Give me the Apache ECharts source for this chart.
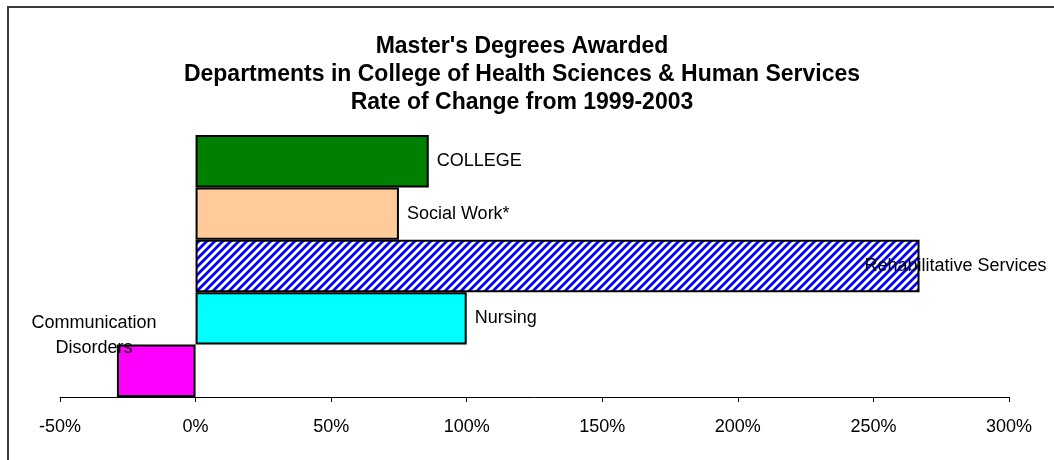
<!DOCTYPE html>
<html>
<head>
<meta charset="utf-8">
<script src="https://cdn.jsdelivr.net/npm/echarts@6/dist/echarts.min.js"></script>
<style>
html,body{margin:0;padding:0;background:#fff;}
#chart{width:1054px;height:460px;}
</style>
</head>
<body>
<div id="chart"></div>
<script>
// ---- data ----
const categories = ['COLLEGE', 'Social Work*', 'Rehabilitative Services', 'Nursing', 'Communication Disorders'];
const labelTexts = ['COLLEGE', 'Social Work*', 'Rehabilitative Services', 'Nursing', 'Communication\nDisorders'];
const rateOfChange = [86, 75, 267, 100, -29];
const tickValues = [-50, 0, 50, 100, 150, 200, 250, 300];
const titleLines = ["Master's Degrees Awarded", 'Departments in College of Health Sciences & Human Services', 'Rate of Change from 1999-2003'];

// ---- styles ----
const FONT = '"Liberation Sans", Arial, Helvetica, sans-serif';
function hatch() {
  const c = document.createElement('canvas');
  const n = 8;
  c.width = n; c.height = n;
  const g = c.getContext('2d');
  g.fillStyle = '#ffffff';
  g.fillRect(0, 0, n, n);
  g.strokeStyle = '#0000ff';
  g.lineWidth = 2.7;
  [0, n, 2 * n].forEach(k => {
    g.beginPath();
    g.moveTo(k + 2, -2);
    g.lineTo(k - n - 2, n + 2);
    g.stroke();
  });
  return c;
}
const fills = ['#008000', '#ffcc99', { image: hatch(), repeat: 'repeat' }, '#00ffff', '#ff00ff'];
const labelCfg = [
  { position: 'right', distance: 8 },
  { position: 'right', distance: 8 },
  { position: 'right', distance: 8, offset: [-63, 0] },
  { position: 'right', distance: 8 },
  { position: 'left', distance: 0, align: 'center', lineHeight: 25, offset: [-23, -35] }
];

const chart = echarts.init(document.getElementById('chart'), null, { renderer: 'canvas' });
chart.setOption({
  backgroundColor: '#ffffff',
  animation: false,
  textStyle: { fontFamily: FONT },
  title: {
    text: titleLines.join('\n'),
    left: 522,
    top: 33,
    padding: 0,
    textAlign: 'center',
    textStyle: { fontFamily: FONT, fontSize: 23, fontWeight: 'bold', color: '#000', lineHeight: 28 }
  },
  graphic: [{
    type: 'rect', silent: true, z: -1,
    shape: { x: 8, y: 7, width: 1300, height: 700 },
    style: { fill: 'none', stroke: '#3a3a3a', lineWidth: 2 }
  }],
  grid: { left: 60, right: 45, top: 135, bottom: 63, containLabel: false },
  xAxis: {
    type: 'value',
    min: tickValues[0],
    max: tickValues[tickValues.length - 1],
    interval: 50,
    axisLine: { show: true, lineStyle: { color: '#000', width: 1 } },
    axisTick: { show: true, length: 5, lineStyle: { color: '#000' } },
    splitLine: { show: false },
    axisLabel: { formatter: '{value}%', fontSize: 18, color: '#000', margin: 21, fontFamily: FONT }
  },
  yAxis: {
    type: 'category',
    data: categories,
    inverse: true,
    axisLine: { show: false },
    axisTick: { show: false },
    axisLabel: { show: false },
    splitLine: { show: false }
  },
  series: [{
    type: 'bar',
    barWidth: '100%',
    barCategoryGap: '0%',
    data: rateOfChange.map((v, i) => ({
      value: v,
      itemStyle: { color: fills[i], borderColor: '#000', borderWidth: 2 },
      label: Object.assign({
        show: true,
        formatter: labelTexts[i],
        fontSize: 18,
        color: '#000',
        fontFamily: FONT
      }, labelCfg[i])
    }))
  }]
});
</script>
</body>
</html>
